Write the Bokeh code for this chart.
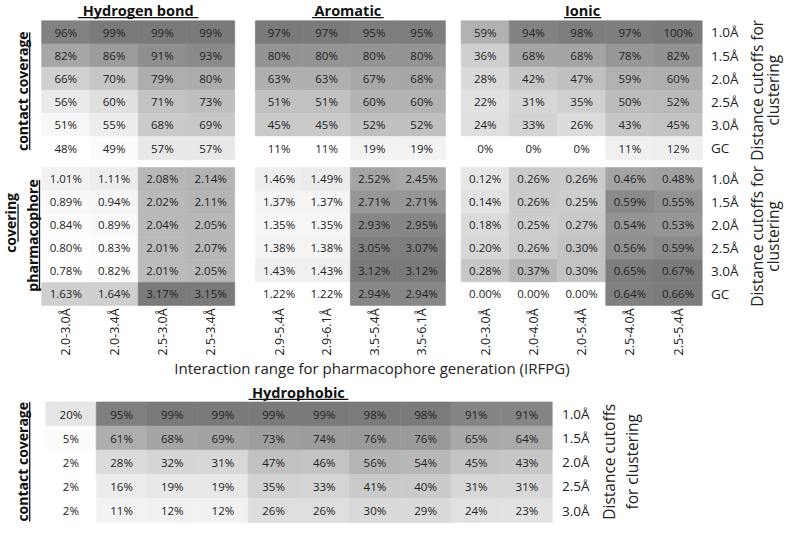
import numpy as np
from bokeh.plotting import figure
from bokeh.models import Range1d
from bokeh.embed import file_html
from bokeh.resources import INLINE
from bokeh.core.properties import value

# ---------------- data ----------------
hb_cols = ["2.0-3.0Å", "2.0-3.4Å", "2.5-3.0Å", "2.5-3.4Å"]
aro_cols = ["2.9-5.4Å", "2.9-6.1Å", "3.5-5.4Å", "3.5-6.1Å"]
ion_cols = ["2.0-3.0Å", "2.0-4.0Å", "2.0-5.4Å", "2.5-4.0Å", "2.5-5.4Å"]
row_labels = ["1.0Å", "1.5Å", "2.0Å", "2.5Å", "3.0Å", "GC"]
hydro_rows = ["1.0Å", "1.5Å", "2.0Å", "2.5Å", "3.0Å"]

hb_contact = [[96, 99, 99, 99], [82, 86, 91, 93], [66, 70, 79, 80],
              [56, 60, 71, 73], [51, 55, 68, 69], [48, 49, 57, 57]]
aro_contact = [[97, 97, 95, 95], [80, 80, 80, 80], [63, 63, 67, 68],
               [51, 51, 60, 60], [45, 45, 52, 52], [11, 11, 19, 19]]
ion_contact = [[59, 94, 98, 97, 100], [36, 68, 68, 78, 82], [28, 42, 47, 59, 60],
               [22, 31, 35, 50, 52], [24, 33, 26, 43, 45], [0, 0, 0, 11, 12]]

hb_cover = [[1.01, 1.11, 2.08, 2.14], [0.89, 0.94, 2.02, 2.11], [0.84, 0.89, 2.04, 2.05],
            [0.80, 0.83, 2.01, 2.07], [0.78, 0.82, 2.01, 2.05], [1.63, 1.64, 3.17, 3.15]]
aro_cover = [[1.46, 1.49, 2.52, 2.45], [1.37, 1.37, 2.71, 2.71], [1.35, 1.35, 2.93, 2.95],
             [1.38, 1.38, 3.05, 3.07], [1.43, 1.43, 3.12, 3.12], [1.22, 1.22, 2.94, 2.94]]
ion_cover = [[0.12, 0.26, 0.26, 0.46, 0.48], [0.14, 0.26, 0.25, 0.59, 0.55],
             [0.18, 0.25, 0.27, 0.54, 0.53], [0.20, 0.26, 0.30, 0.56, 0.59],
             [0.28, 0.37, 0.30, 0.65, 0.67], [0.00, 0.00, 0.00, 0.64, 0.66]]

hydro_contact = [[20, 95, 99, 99, 99, 99, 98, 98, 91, 91],
                 [5, 61, 68, 69, 73, 74, 76, 76, 65, 64],
                 [2, 28, 32, 31, 47, 46, 56, 54, 45, 43],
                 [2, 16, 19, 19, 35, 33, 41, 40, 31, 31],
                 [2, 11, 12, 12, 26, 26, 30, 29, 24, 23]]

# ---------------- figure ----------------
FONT = "Open Sans"
DARK = 122
TXT = "#222222"

p = figure(width=784, height=524, x_range=Range1d(-3, 797), y_range=Range1d(540, -3),
           output_backend="svg", toolbar_location=None, min_border=0,
           x_axis_location=None, y_axis_location=None)
p.xgrid.visible = False
p.ygrid.visible = False
p.outline_line_color = None


def gray(t):
    g = int(round(255 - t * (255 - DARK)))
    return "#%02x%02x%02x" % (g, g, g)


def block(vals, x0, x1, y0, y1, fmt):
    arr = np.array(vals, dtype=float)
    nr, nc = arr.shape
    cw = (x1 - x0) / nc
    rh = (y1 - y0) / nr
    vmin, vmax = arr.min(), arr.max()
    xs, ys, cols, labs = [], [], [], []
    for i in range(nr):
        for j in range(nc):
            v = arr[i, j]
            xs.append(x0 + (j + 0.5) * cw)
            ys.append(y0 + (i + 0.5) * rh)
            cols.append(gray((v - vmin) / (vmax - vmin)))
            labs.append(fmt(v))
    p.rect(x=xs, y=ys, width=cw, height=rh, fill_color=cols, line_color=cols, line_width=0.6)
    p.text(x=xs, y=ys, text=labs, text_align="center", text_baseline="middle",
           text_font=value(FONT), text_font_size="11.5px", text_color=TXT)
    return [x0 + (j + 0.5) * cw for j in range(nc)], [y0 + (i + 0.5) * rh for i in range(nr)]


pct0 = lambda v: "%d%%" % int(round(v))
pct2 = lambda v: "%.2f%%" % v

panels = [(39, 236, hb_contact, hb_cover, hb_cols),
          (257, 451, aro_contact, aro_cover, aro_cols),
          (467, 713, ion_contact, ion_cover, ion_cols)]

for x0, x1, cont, cov, cols in panels:
    xc, yc1 = block(cont, x0, x1, 18, 162, pct0)
    _, yc2 = block(cov, x0, x1, 170, 313, pct2)
    p.text(x=xc, y=[316] * len(xc), text=cols, angle=np.pi / 2, text_align="right",
           text_baseline="middle", text_font=value(FONT), text_font_size="12.5px",
           text_color=TXT)

# row labels (top two blocks)
for yc in (yc1, yc2):
    p.text(x=[722] * len(yc), y=yc, text=row_labels, text_align="left",
           text_baseline="middle", text_font=value(FONT), text_font_size="13.5px",
           text_color=TXT)
    ym = sum(yc) / len(yc)
    p.text(x=[769, 785], y=[ym, ym], text=["Distance cutoffs for", "clustering"],
           angle=np.pi / 2, text_align="center", text_baseline="middle",
           text_font=value(FONT), text_font_size="15.5px", text_color=TXT)

# hydrophobic block
_, ych = block(hydro_contact, 43, 560, 413, 538, pct0)
p.text(x=[570] * len(ych), y=ych, text=hydro_rows, text_align="left",
       text_baseline="middle", text_font=value(FONT), text_font_size="13.5px",
       text_color=TXT)
p.text(x=[618, 641], y=[475, 475], text=["Distance cutoffs", "for clustering"],
       angle=np.pi / 2, text_align="center", text_baseline="middle",
       text_font=value(FONT), text_font_size="15.5px", text_color=TXT)

# titles (bold, underlined)
titles = ["Hydrogen bond", "Aromatic", "Ionic", "Hydrophobic"]
t_left = [76, 315, 572, 250]
t_right = [199, 388, 610, 352]
t_mid = [7.4, 7.4, 7.4, 403]
for t, l, r, m in zip(titles, t_left, t_right, t_mid):
    p.text(x=[(l + r) / 2], y=[m], text=[t], text_align="center", text_baseline="middle",
           text_font=value(FONT), text_font_size="14.5px", text_font_style="bold",
           text_color="#111111")
    p.segment(x0=[l], y0=[m + 7.4], x1=[r], y1=[m + 7.4], line_color="#111111", line_width=1.3)

# left side labels (rotated, bold, underlined)
side_txt = ["contact coverage", "covering", "pharmacophore", "contact coverage"]
side_x = [19.5, 7.6, 29.5, 19.5]
side_y0 = [30, 208, 183, 413]
side_y1 = [152, 247, 298, 537]
for t, cx, a, b in zip(side_txt, side_x, side_y0, side_y1):
    p.text(x=[cx], y=[(a + b) / 2], text=[t], angle=np.pi / 2, text_align="center",
           text_baseline="middle", text_font=value(FONT), text_font_size="14px",
           text_font_style="bold", text_color="#111111")
    p.segment(x0=[cx + 7.3], y0=[a], x1=[cx + 7.3], y1=[b], line_color="#111111", line_width=1.3)

# x axis title
p.text(x=[376], y=[378], text=["Interaction range for pharmacophore generation (IRFPG)"],
       text_align="center", text_baseline="middle", text_font=value(FONT),
       text_font_size="15px", text_color=TXT)

open("out.html", "w").write(file_html(p, INLINE))
